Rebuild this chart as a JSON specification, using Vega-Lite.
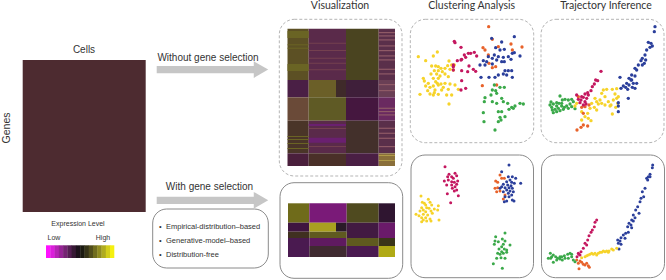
{
"$schema":"https://vega.github.io/schema/vega-lite/v6.json",
"width":666,"height":280,"padding":0,"autosize":{"type":"none"},
"background":"white",
"config":{"view":{"stroke":null}},
"resolve":{"scale":{"x":"independent","y":"independent","color":"independent"}},
"layer":[
{"data":{"values":[
{"x":22.7,"x2":145.7,"y":60,"y2":212,"tone":"m"},
{"x":287.5,"x2":308.7,"y":28.7,"y2":80,"tone":"a"},{"x":308.7,"x2":346,"y":28.7,"y2":80,"tone":"b"},{"x":346,"x2":378.7,"y":28.7,"y2":80,"tone":"c"},{"x":378.7,"x2":395,"y":28.7,"y2":80,"tone":"d"},
{"x":287.5,"x2":308.7,"y":80,"y2":97.3,"tone":"e"},{"x":308.7,"x2":336,"y":80,"y2":97.3,"tone":"f"},{"x":336,"x2":346,"y":80,"y2":97.3,"tone":"g"},{"x":346,"x2":378.7,"y":80,"y2":97.3,"tone":"h"},{"x":378.7,"x2":395,"y":80,"y2":97.3,"tone":"i"},
{"x":287.5,"x2":308.7,"y":97.3,"y2":120.7,"tone":"j"},{"x":308.7,"x2":346,"y":97.3,"y2":120.7,"tone":"k"},{"x":346,"x2":378.7,"y":97.3,"y2":120.7,"tone":"l"},{"x":378.7,"x2":395,"y":97.3,"y2":120.7,"tone":"n"},
{"x":287.5,"x2":308.7,"y":120.7,"y2":153.3,"tone":"o"},{"x":308.7,"x2":346,"y":120.7,"y2":153.3,"tone":"b"},{"x":346,"x2":378.7,"y":120.7,"y2":153.3,"tone":"p"},{"x":378.7,"x2":395,"y":120.7,"y2":153.3,"tone":"d"},
{"x":287.5,"x2":308.7,"y":153.3,"y2":166,"tone":"q"},{"x":308.7,"x2":346,"y":153.3,"y2":166,"tone":"r"},{"x":346,"x2":378.7,"y":153.3,"y2":166,"tone":"s"},{"x":378.7,"x2":395,"y":153.3,"y2":166,"tone":"t"},
{"x":288,"x2":309.3,"y":203.3,"y2":222.7,"tone":"B1"},{"x":309.3,"x2":346.7,"y":203.3,"y2":222.7,"tone":"B2"},{"x":346.7,"x2":378.7,"y":203.3,"y2":222.7,"tone":"B3"},{"x":378.7,"x2":395,"y":203.3,"y2":222.7,"tone":"B4"},
{"x":288,"x2":309.3,"y":222.7,"y2":231.7,"tone":"B5"},{"x":309.3,"x2":336,"y":222.7,"y2":231.7,"tone":"B6"},{"x":336,"x2":346.7,"y":222.7,"y2":231.7,"tone":"B7"},{"x":346.7,"x2":378.7,"y":222.7,"y2":238,"tone":"B8"},{"x":378.7,"x2":395,"y":222.7,"y2":238,"tone":"B9"},
{"x":288,"x2":309.3,"y":231.7,"y2":238,"tone":"B10"},{"x":309.3,"x2":346.7,"y":231.7,"y2":238,"tone":"B11"},
{"x":288,"x2":309.3,"y":238,"y2":257,"tone":"B12"},{"x":309.3,"x2":346.7,"y":238,"y2":246,"tone":"B13"},{"x":309.3,"x2":346.7,"y":246,"y2":257,"tone":"B14"},{"x":346.7,"x2":378.7,"y":238,"y2":246,"tone":"B15"},{"x":378.7,"x2":395,"y":238,"y2":246,"tone":"B16"},{"x":346.7,"x2":378.7,"y":246,"y2":257,"tone":"B12"},{"x":378.7,"x2":395,"y":246,"y2":257,"tone":"B17"}
]},
"mark":{"type":"rect"},
"encoding":{
"x":{"field":"x","type":"quantitative","axis":null,"scale":{"domain":[0,666]}},"x2":{"field":"x2"},
"y":{"field":"y","type":"quantitative","axis":null,"scale":{"domain":[280,0]}},"y2":{"field":"y2"},
"color":{"field":"tone","type":"nominal","legend":null,"scale":{
"domain":["m","a","b","c","d","e","f","g","h","i","j","k","l","n","o","p","q","r","s","t","B1","B2","B3","B4","B5","B6","B7","B8","B9","B10","B11","B12","B13","B14","B15","B16","B17"],
"range":["#4d2b30","#5c5024","#5a2a4a","#4a4420","#5a2f4a","#4a1f45","#6b5f28","#3f2a2a","#3f1f3a","#6a3f55","#6a4a38","#5f5a25","#45173f","#6a2a60","#4a3528","#43302b","#4a1f3c","#4a3028","#4a1f44","#8a6f3a","#6f6b1a","#7a1a78","#4f4a1f","#2f1530","#3f1540","#a8a020","#2a1a28","#421a42","#6a1a6a","#403020","#5f5a20","#4a1a50","#5f1a60","#3f2a30","#5f5a1f","#3a3518","#b0aa15"]}}}},
{"data":{"values":[
{"k":"pink","x":378.7,"x2":395,"y":32,"y2":33.2},{"k":"pink","x":378.7,"x2":395,"y":35.3,"y2":36.5},{"k":"pink","x":378.7,"x2":395,"y":39.3,"y2":40.5},{"k":"pink","x":378.7,"x2":395,"y":45.3,"y2":46.5},{"k":"pink","x":378.7,"x2":395,"y":50,"y2":51.2},{"k":"pink","x":378.7,"x2":395,"y":55.3,"y2":56.5},{"k":"pink","x":378.7,"x2":395,"y":59.3,"y2":60.5},{"k":"pink","x":378.7,"x2":395,"y":68.7,"y2":69.9},{"k":"pink","x":378.7,"x2":395,"y":73.3,"y2":74.5},
{"k":"pink","x":378.7,"x2":395,"y":84,"y2":85.2},{"k":"pink","x":378.7,"x2":395,"y":90,"y2":91.2},
{"k":"pink","x":378.7,"x2":395,"y":107.7,"y2":108.9},{"k":"pink","x":378.7,"x2":395,"y":111,"y2":112.2},{"k":"pink","x":378.7,"x2":395,"y":114.3,"y2":115.5},{"k":"pink","x":378.7,"x2":395,"y":127.7,"y2":128.9},{"k":"pink","x":378.7,"x2":395,"y":132.7,"y2":133.9},{"k":"pink","x":378.7,"x2":395,"y":137.7,"y2":138.9},{"k":"pink","x":378.7,"x2":395,"y":146,"y2":147.2},
{"k":"pale","x":308.7,"x2":346,"y":42.7,"y2":43.7},{"k":"pale","x":308.7,"x2":346,"y":50,"y2":51},{"k":"pale","x":308.7,"x2":346,"y":57.7,"y2":58.7},{"k":"pale","x":308.7,"x2":346,"y":62.7,"y2":63.7},{"k":"pale","x":308.7,"x2":346,"y":69.3,"y2":70.3},{"k":"pale","x":308.7,"x2":346,"y":146,"y2":147},{"k":"pale","x":308.7,"x2":346,"y":128,"y2":129},
{"k":"mag","x":308.7,"x2":346,"y":137.7,"y2":142.7},{"k":"mag","x":308.7,"x2":346,"y":124,"y2":126},
{"k":"olive","x":287.5,"x2":308.7,"y":31,"y2":38},{"k":"olive","x":287.5,"x2":308.7,"y":64,"y2":71},{"k":"olive","x":287.5,"x2":308.7,"y":44.3,"y2":45.3},{"k":"olive","x":287.5,"x2":308.7,"y":47.7,"y2":48.7},
{"k":"olive","x":287.5,"x2":308.7,"y":136,"y2":137},{"k":"olive","x":287.5,"x2":308.7,"y":139,"y2":140},{"k":"olive","x":287.5,"x2":308.7,"y":143,"y2":144},{"k":"olive","x":287.5,"x2":308.7,"y":148,"y2":149},
{"k":"gold","x":378.7,"x2":395,"y":155,"y2":156},{"k":"gold","x":378.7,"x2":395,"y":160,"y2":161}
]},
"mark":{"type":"rect"},
"encoding":{
"x":{"field":"x","type":"quantitative","axis":null,"scale":{"domain":[0,666]}},"x2":{"field":"x2"},
"y":{"field":"y","type":"quantitative","axis":null,"scale":{"domain":[280,0]}},"y2":{"field":"y2"},
"color":{"field":"k","type":"nominal","legend":null,"scale":{"domain":["pink","pale","mag","olive","gold"],"range":["#8f5a66","#74404f","#6a2070","#6a6424","#b09a48"]}}}},
{"data":{"values":[
{"level":-1,"x":46,"x2":50.6},{"level":-0.87,"x":50.3,"x2":54.9},{"level":-0.73,"x":54.6,"x2":59.2},{"level":-0.6,"x":58.8,"x2":63.4},{"level":-0.47,"x":63.1,"x2":67.7},{"level":-0.33,"x":67.4,"x2":72},{"level":-0.2,"x":71.6,"x2":76.2},{"level":-0.07,"x":75.9,"x2":80.5},{"level":0.07,"x":80.2,"x2":84.8},{"level":0.2,"x":84.4,"x2":89},{"level":0.33,"x":88.7,"x2":93.3},{"level":0.47,"x":93,"x2":97.6},{"level":0.6,"x":97.2,"x2":101.8},{"level":0.73,"x":101.5,"x2":106.1},{"level":0.87,"x":105.8,"x2":110.4},{"level":1,"x":110,"x2":114.3}
]},
"mark":{"type":"rect"},
"encoding":{
"x":{"field":"x","type":"quantitative","axis":null,"scale":{"domain":[0,666]}},"x2":{"field":"x2"},
"y":{"datum":245.3,"type":"quantitative","axis":null,"scale":{"domain":[280,0]}},"y2":{"datum":258},
"color":{"field":"level","type":"quantitative","legend":null,"scale":{"domain":[-1,0,1],"range":["#ff10ff","#0a0a0a","#f5f010"]}}}},
{"data":{"values":[{"x":279.3,"x2":402,"y":19.3,"y2":176},{"x":410.3,"x2":533.7,"y":19.3,"y2":142.7},{"x":541,"x2":664,"y":19.3,"y2":142.7}]},
"mark":{"type":"rect","fill":"transparent","stroke":"#b5b5b5","strokeWidth":1,"strokeDash":[3,2],"cornerRadius":15},
"encoding":{"x":{"field":"x","type":"quantitative","axis":null,"scale":{"domain":[0,666]}},"x2":{"field":"x2"},"y":{"field":"y","type":"quantitative","axis":null,"scale":{"domain":[280,0]}},"y2":{"field":"y2"}}},
{"data":{"values":[{"x":280,"x2":402.7,"y":182.7,"y2":278.3},{"x":411,"x2":533.5,"y":155,"y2":277.7},{"x":541.5,"x2":664.5,"y":155,"y2":277.7},{"x":152.7,"x2":268.3,"y":209,"y2":268}]},
"mark":{"type":"rect","fill":"transparent","stroke":"#8a8a8a","strokeWidth":1,"cornerRadius":14},
"encoding":{"x":{"field":"x","type":"quantitative","axis":null,"scale":{"domain":[0,666]}},"x2":{"field":"x2"},"y":{"field":"y","type":"quantitative","axis":null,"scale":{"domain":[280,0]}},"y2":{"field":"y2"}}},
{"data":{"values":[{"x":156.7,"x2":255,"y":66,"y2":73.3},{"x":156.7,"x2":255,"y":196.7,"y2":204}]},
"mark":{"type":"rect","color":"#c6c6c6"},
"encoding":{"x":{"field":"x","type":"quantitative","axis":null,"scale":{"domain":[0,666]}},"x2":{"field":"x2"},"y":{"field":"y","type":"quantitative","axis":null,"scale":{"domain":[280,0]}},"y2":{"field":"y2"}}},
{"data":{"values":[{"x":261,"y":69.6},{"x":261,"y":200.3}]},
"mark":{"type":"point","shape":"triangle-right","filled":true,"opacity":1,"color":"#c6c6c6","size":278},
"encoding":{"x":{"field":"x","type":"quantitative","axis":null,"scale":{"domain":[0,666]}},"y":{"field":"y","type":"quantitative","axis":null,"scale":{"domain":[280,0]}}}},
{"data":{"values":[
{"g":"y","x":40,"y":170},{"g":"y","x":97,"y":156},{"g":"y","x":85,"y":168},{"g":"y","x":62,"y":182},{"g":"y","x":80,"y":198},{"g":"y","x":92,"y":198},{"g":"y","x":100,"y":200},{"g":"y","x":108,"y":205},{"g":"y","x":120,"y":205},{"g":"y","x":132,"y":183},{"g":"y","x":140,"y":195},{"g":"y","x":128,"y":197},{"g":"y","x":148,"y":195},{"g":"y","x":100,"y":212},{"g":"y","x":88,"y":212},{"g":"y","x":112,"y":215},{"g":"y","x":135,"y":208},{"g":"y","x":78,"y":222},{"g":"y","x":95,"y":222},{"g":"y","x":120,"y":222},{"g":"y","x":145,"y":210},{"g":"y","x":105,"y":228},{"g":"y","x":85,"y":235},{"g":"y","x":100,"y":235},{"g":"y","x":130,"y":230},{"g":"y","x":55,"y":235},{"g":"y","x":58,"y":243},{"g":"y","x":70,"y":250},{"g":"y","x":92,"y":245},{"g":"y","x":97,"y":250},{"g":"y","x":108,"y":252},{"g":"y","x":120,"y":250},{"g":"y","x":135,"y":252},{"g":"y","x":150,"y":255},{"g":"y","x":62,"y":258},{"g":"y","x":85,"y":258},{"g":"y","x":100,"y":255},{"g":"y","x":75,"y":262},{"g":"y","x":115,"y":262},{"g":"y","x":68,"y":272},{"g":"y","x":90,"y":270},{"g":"y","x":130,"y":268},{"g":"y","x":160,"y":268},{"g":"y","x":45,"y":283},{"g":"y","x":75,"y":282},{"g":"y","x":85,"y":285},{"g":"y","x":100,"y":283},{"g":"y","x":125,"y":285},{"g":"y","x":140,"y":285},{"g":"y","x":132,"y":312},{"g":"y","x":88,"y":278},{"g":"y","x":110,"y":270},
{"g":"r","x":148,"y":124},{"g":"r","x":168,"y":142},{"g":"r","x":197,"y":160},{"g":"r","x":208,"y":157},{"g":"r","x":190,"y":160},{"g":"r","x":178,"y":165},{"g":"r","x":182,"y":172},{"g":"r","x":170,"y":178},{"g":"r","x":157,"y":182},{"g":"r","x":168,"y":180},{"g":"r","x":145,"y":195},{"g":"r","x":145,"y":210},{"g":"r","x":215,"y":168},{"g":"r","x":192,"y":198},{"g":"r","x":170,"y":212},{"g":"r","x":188,"y":215},{"g":"r","x":205,"y":208},{"g":"r","x":212,"y":214},{"g":"r","x":170,"y":242},{"g":"r","x":182,"y":265},{"g":"r","x":168,"y":270},{"g":"r","x":150,"y":128},{"g":"r","x":145,"y":200},
{"g":"o","x":251,"y":80},{"g":"o","x":234,"y":143},{"g":"o","x":262,"y":118},{"g":"o","x":280,"y":140},{"g":"o","x":318,"y":132},{"g":"o","x":351,"y":141},{"g":"o","x":272,"y":200},{"g":"o","x":262,"y":203},{"g":"o","x":232,"y":257},{"g":"o","x":252,"y":190},{"g":"o","x":322,"y":150},{"g":"o","x":250,"y":165},{"g":"o","x":275,"y":255},{"g":"o","x":240,"y":150},
{"g":"b","x":260,"y":115},{"g":"b","x":328,"y":110},{"g":"b","x":290,"y":126},{"g":"b","x":272,"y":143},{"g":"b","x":285,"y":150},{"g":"b","x":298,"y":148},{"g":"b","x":322,"y":160},{"g":"b","x":268,"y":165},{"g":"b","x":250,"y":170},{"g":"b","x":235,"y":182},{"g":"b","x":245,"y":185},{"g":"b","x":262,"y":175},{"g":"b","x":280,"y":170},{"g":"b","x":295,"y":172},{"g":"b","x":310,"y":170},{"g":"b","x":328,"y":158},{"g":"b","x":345,"y":168},{"g":"b","x":240,"y":195},{"g":"b","x":262,"y":192},{"g":"b","x":275,"y":180},{"g":"b","x":290,"y":185},{"g":"b","x":318,"y":178},{"g":"b","x":225,"y":195},{"g":"b","x":300,"y":212},{"g":"b","x":310,"y":212},{"g":"b","x":320,"y":212},{"g":"b","x":295,"y":222},{"g":"b","x":280,"y":225},{"g":"b","x":270,"y":232},{"g":"b","x":305,"y":225},{"g":"b","x":322,"y":232},{"g":"b","x":228,"y":232},{"g":"b","x":252,"y":232},{"g":"b","x":298,"y":185},
{"g":"g","x":268,"y":255},{"g":"g","x":285,"y":262},{"g":"g","x":298,"y":262},{"g":"g","x":262,"y":270},{"g":"g","x":272,"y":272},{"g":"g","x":258,"y":285},{"g":"g","x":240,"y":293},{"g":"g","x":238,"y":305},{"g":"g","x":275,"y":280},{"g":"g","x":290,"y":295},{"g":"g","x":295,"y":305},{"g":"g","x":262,"y":305},{"g":"g","x":275,"y":310},{"g":"g","x":308,"y":310},{"g":"g","x":345,"y":310},{"g":"g","x":355,"y":312},{"g":"g","x":330,"y":318},{"g":"g","x":320,"y":322},{"g":"g","x":312,"y":328},{"g":"g","x":325,"y":325},{"g":"g","x":235,"y":338},{"g":"g","x":280,"y":335},{"g":"g","x":290,"y":335},{"g":"g","x":300,"y":350},{"g":"g","x":285,"y":352},{"g":"g","x":288,"y":360},{"g":"g","x":280,"y":365},{"g":"g","x":237,"y":365},{"g":"g","x":270,"y":390},
{"g":"g","x":438,"y":306},{"g":"g","x":435,"y":315},{"g":"g","x":445,"y":312},{"g":"g","x":455,"y":318},{"g":"g","x":465,"y":288},{"g":"g","x":472,"y":300},{"g":"g","x":480,"y":298},{"g":"g","x":490,"y":300},{"g":"g","x":500,"y":298},{"g":"g","x":505,"y":305},{"g":"g","x":495,"y":312},{"g":"g","x":485,"y":318},{"g":"g","x":478,"y":322},{"g":"g","x":470,"y":318},{"g":"g","x":460,"y":325},{"g":"g","x":450,"y":328},{"g":"g","x":440,"y":322},{"g":"g","x":445,"y":338},{"g":"g","x":455,"y":335},{"g":"g","x":465,"y":332},{"g":"g","x":475,"y":328},{"g":"g","x":462,"y":310},{"g":"g","x":455,"y":308},{"g":"g","x":500,"y":320},{"g":"g","x":510,"y":326},{"g":"g","x":490,"y":325},{"g":"g","x":470,"y":310},{"g":"g","x":442,"y":330},
{"g":"y","x":595,"y":270},{"g":"y","x":605,"y":268},{"g":"y","x":622,"y":268},{"g":"y","x":635,"y":266},{"g":"y","x":590,"y":280},{"g":"y","x":600,"y":290},{"g":"y","x":630,"y":282},{"g":"y","x":635,"y":295},{"g":"y","x":625,"y":300},{"g":"y","x":610,"y":305},{"g":"y","x":590,"y":310},{"g":"y","x":600,"y":315},{"g":"y","x":615,"y":318},{"g":"y","x":585,"y":300},{"g":"y","x":580,"y":312},{"g":"y","x":570,"y":295},{"g":"y","x":575,"y":305},{"g":"y","x":560,"y":310},{"g":"y","x":568,"y":322},{"g":"y","x":575,"y":330},{"g":"y","x":555,"y":325},{"g":"y","x":548,"y":340},{"g":"y","x":530,"y":335},{"g":"y","x":540,"y":350},{"g":"y","x":550,"y":355},{"g":"y","x":558,"y":362},{"g":"y","x":530,"y":360},{"g":"y","x":622,"y":342},{"g":"y","x":632,"y":322},{"g":"y","x":638,"y":310},{"g":"y","x":618,"y":315},{"g":"y","x":640,"y":290},{"g":"y","x":515,"y":310},{"g":"y","x":510,"y":318},
{"g":"o","x":530,"y":322},{"g":"o","x":540,"y":320},{"g":"o","x":552,"y":315},{"g":"o","x":520,"y":290},{"g":"o","x":535,"y":340},{"g":"o","x":548,"y":378},{"g":"o","x":535,"y":375},{"g":"o","x":528,"y":382},{"g":"o","x":516,"y":390},
{"g":"r","x":588,"y":214},{"g":"r","x":572,"y":240},{"g":"r","x":578,"y":242},{"g":"r","x":568,"y":252},{"g":"r","x":562,"y":260},{"g":"r","x":558,"y":272},{"g":"r","x":548,"y":278},{"g":"r","x":540,"y":282},{"g":"r","x":530,"y":290},{"g":"r","x":520,"y":298},{"g":"r","x":535,"y":292},{"g":"r","x":545,"y":295},{"g":"r","x":528,"y":300},{"g":"r","x":540,"y":305},{"g":"r","x":550,"y":285},{"g":"r","x":525,"y":308},{"g":"r","x":535,"y":315},{"g":"r","x":543,"y":312},{"g":"r","x":515,"y":285},
{"g":"b","x":750,"y":80},{"g":"b","x":748,"y":95},{"g":"b","x":730,"y":127},{"g":"b","x":738,"y":130},{"g":"b","x":742,"y":138},{"g":"b","x":735,"y":142},{"g":"b","x":725,"y":150},{"g":"b","x":720,"y":165},{"g":"b","x":712,"y":175},{"g":"b","x":722,"y":180},{"g":"b","x":708,"y":182},{"g":"b","x":718,"y":190},{"g":"b","x":700,"y":195},{"g":"b","x":712,"y":195},{"g":"b","x":690,"y":205},{"g":"b","x":695,"y":210},{"g":"b","x":680,"y":225},{"g":"b","x":690,"y":228},{"g":"b","x":672,"y":235},{"g":"b","x":680,"y":240},{"g":"b","x":665,"y":250},{"g":"b","x":655,"y":258},{"g":"b","x":648,"y":265},{"g":"b","x":662,"y":262},{"g":"b","x":672,"y":255},{"g":"b","x":685,"y":250},{"g":"b","x":695,"y":250},{"g":"b","x":682,"y":262},{"g":"b","x":690,"y":265},{"g":"b","x":678,"y":240},{"g":"b","x":645,"y":232},{"g":"b","x":668,"y":268},{"g":"b","x":670,"y":295},{"g":"b","x":640,"y":308},{"g":"b","x":640,"y":318},{"g":"b","x":640,"y":335}
]},
"mark":{"type":"point","filled":true,"opacity":1,"size":11,"stroke":null},
"encoding":{
"x":{"field":"x","type":"quantitative","axis":null,"scale":{"domain":[-1215,783]}},
"y":{"field":"y","type":"quantitative","axis":null,"scale":{"domain":[840,0]}},
"color":{"field":"g","type":"nominal","legend":null,"scale":{"domain":["y","r","b","o","g"],"range":["#f6d32a","#c4175f","#2b3f9b","#e8622a","#3ba94a"]}}}},
{"data":{"values":[
{"g":"r","x":120,"y":65},{"g":"r","x":150,"y":85},{"g":"r","x":132,"y":88},{"g":"r","x":128,"y":95},{"g":"r","x":140,"y":95},{"g":"r","x":155,"y":92},{"g":"r","x":130,"y":105},{"g":"r","x":145,"y":100},{"g":"r","x":158,"y":108},{"g":"r","x":118,"y":108},{"g":"r","x":140,"y":110},{"g":"r","x":148,"y":112},{"g":"r","x":125,"y":120},{"g":"r","x":140,"y":120},{"g":"r","x":155,"y":118},{"g":"r","x":150,"y":125},{"g":"r","x":142,"y":130},{"g":"r","x":155,"y":135},{"g":"r","x":148,"y":138},{"g":"r","x":127,"y":146},{"g":"r","x":160,"y":152},{"g":"r","x":137,"y":173},
{"g":"o","x":285,"y":90},{"g":"o","x":290,"y":100},{"g":"o","x":298,"y":100},{"g":"o","x":272,"y":108},{"g":"o","x":278,"y":112},{"g":"o","x":270,"y":130},{"g":"o","x":278,"y":128},{"g":"o","x":285,"y":138},{"g":"o","x":275,"y":140},{"g":"o","x":295,"y":162},{"g":"o","x":300,"y":150},
{"g":"b","x":312,"y":60},{"g":"b","x":290,"y":80},{"g":"b","x":310,"y":95},{"g":"b","x":322,"y":95},{"g":"b","x":332,"y":100},{"g":"b","x":315,"y":105},{"g":"b","x":305,"y":110},{"g":"b","x":320,"y":112},{"g":"b","x":347,"y":115},{"g":"b","x":295,"y":118},{"g":"b","x":308,"y":120},{"g":"b","x":318,"y":122},{"g":"b","x":328,"y":115},{"g":"b","x":290,"y":125},{"g":"b","x":300,"y":128},{"g":"b","x":312,"y":128},{"g":"b","x":322,"y":130},{"g":"b","x":285,"y":130},{"g":"b","x":305,"y":135},{"g":"b","x":315,"y":138},{"g":"b","x":325,"y":140},{"g":"b","x":295,"y":140},{"g":"b","x":310,"y":145},{"g":"b","x":320,"y":150},{"g":"b","x":300,"y":155},{"g":"b","x":305,"y":168},{"g":"b","x":298,"y":170},{"g":"b","x":322,"y":165},{"g":"b","x":327,"y":168},{"g":"b","x":312,"y":155},
{"g":"y","x":48,"y":153},{"g":"y","x":70,"y":163},{"g":"y","x":52,"y":172},{"g":"y","x":58,"y":175},{"g":"y","x":75,"y":172},{"g":"y","x":62,"y":180},{"g":"y","x":80,"y":180},{"g":"y","x":100,"y":182},{"g":"y","x":50,"y":188},{"g":"y","x":65,"y":188},{"g":"y","x":72,"y":190},{"g":"y","x":88,"y":192},{"g":"y","x":55,"y":195},{"g":"y","x":45,"y":198},{"g":"y","x":62,"y":200},{"g":"y","x":78,"y":198},{"g":"y","x":98,"y":195},{"g":"y","x":33,"y":208},{"g":"y","x":42,"y":212},{"g":"y","x":55,"y":208},{"g":"y","x":68,"y":210},{"g":"y","x":82,"y":205},{"g":"y","x":50,"y":218},{"g":"y","x":62,"y":218},{"g":"y","x":75,"y":222},{"g":"y","x":102,"y":225},{"g":"y","x":50,"y":230},{"g":"y","x":65,"y":228},{"g":"y","x":78,"y":228},{"g":"y","x":55,"y":225},
{"g":"g","x":300,"y":264},{"g":"g","x":272,"y":275},{"g":"g","x":270,"y":288},{"g":"g","x":280,"y":290},{"g":"g","x":292,"y":282},{"g":"g","x":300,"y":288},{"g":"g","x":268,"y":298},{"g":"g","x":295,"y":298},{"g":"g","x":315,"y":300},{"g":"g","x":290,"y":305},{"g":"g","x":282,"y":312},{"g":"g","x":298,"y":312},{"g":"g","x":305,"y":315},{"g":"g","x":290,"y":320},{"g":"g","x":278,"y":325},{"g":"g","x":285,"y":328},{"g":"g","x":295,"y":325},{"g":"g","x":305,"y":322},{"g":"g","x":300,"y":340},{"g":"g","x":275,"y":340},{"g":"g","x":288,"y":338},{"g":"g","x":265,"y":356},{"g":"g","x":292,"y":370},
{"g":"b","x":743,"y":60},{"g":"b","x":742,"y":68},{"g":"b","x":735,"y":88},{"g":"b","x":730,"y":95},{"g":"b","x":725,"y":100},{"g":"b","x":735,"y":95},{"g":"b","x":728,"y":105},{"g":"b","x":720,"y":130},{"g":"b","x":712,"y":140},{"g":"b","x":708,"y":160},{"g":"b","x":716,"y":155},{"g":"b","x":705,"y":170},{"g":"b","x":698,"y":185},{"g":"b","x":692,"y":195},{"g":"b","x":702,"y":205},{"g":"b","x":685,"y":210},{"g":"b","x":690,"y":218},{"g":"b","x":680,"y":225},{"g":"b","x":672,"y":235},{"g":"b","x":685,"y":228},{"g":"b","x":678,"y":240},{"g":"b","x":668,"y":245},{"g":"b","x":680,"y":248},{"g":"b","x":662,"y":265},{"g":"b","x":670,"y":262},{"g":"b","x":655,"y":270},{"g":"b","x":660,"y":280},{"g":"b","x":648,"y":278},{"g":"b","x":638,"y":285},{"g":"b","x":645,"y":288},{"g":"b","x":640,"y":295},{"g":"b","x":648,"y":298},{"g":"b","x":642,"y":312},
{"g":"r","x":575,"y":225},{"g":"r","x":570,"y":232},{"g":"r","x":568,"y":245},{"g":"r","x":562,"y":255},{"g":"r","x":558,"y":262},{"g":"r","x":552,"y":272},{"g":"r","x":548,"y":285},{"g":"r","x":540,"y":295},{"g":"r","x":545,"y":300},{"g":"r","x":535,"y":310},{"g":"r","x":528,"y":320},{"g":"r","x":522,"y":328},{"g":"r","x":516,"y":335},{"g":"r","x":520,"y":325},{"g":"r","x":525,"y":330},
{"g":"y","x":635,"y":310},{"g":"y","x":625,"y":315},{"g":"y","x":612,"y":318},{"g":"y","x":600,"y":320},{"g":"y","x":590,"y":322},{"g":"y","x":580,"y":325},{"g":"y","x":570,"y":325},{"g":"y","x":560,"y":325},{"g":"y","x":550,"y":330},{"g":"y","x":540,"y":335},{"g":"y","x":530,"y":338},{"g":"y","x":605,"y":318},{"g":"y","x":595,"y":318},{"g":"y","x":585,"y":322},{"g":"y","x":565,"y":328},{"g":"y","x":620,"y":312},{"g":"y","x":575,"y":330},{"g":"y","x":555,"y":328},{"g":"y","x":545,"y":332},{"g":"y","x":610,"y":322},
{"g":"o","x":515,"y":345},{"g":"o","x":520,"y":355},{"g":"o","x":530,"y":352},{"g":"o","x":540,"y":360},{"g":"o","x":550,"y":362},{"g":"o","x":553,"y":367},{"g":"o","x":522,"y":371},{"g":"o","x":535,"y":358},{"g":"o","x":545,"y":355},{"g":"o","x":525,"y":348},
{"g":"g","x":430,"y":340},{"g":"g","x":436,"y":325},{"g":"g","x":440,"y":335},{"g":"g","x":445,"y":330},{"g":"g","x":452,"y":335},{"g":"g","x":458,"y":340},{"g":"g","x":465,"y":335},{"g":"g","x":472,"y":345},{"g":"g","x":478,"y":332},{"g":"g","x":488,"y":328},{"g":"g","x":495,"y":325},{"g":"g","x":500,"y":335},{"g":"g","x":505,"y":345},{"g":"g","x":510,"y":350},{"g":"g","x":445,"y":352},{"g":"g","x":455,"y":345},{"g":"g","x":465,"y":342},{"g":"g","x":480,"y":340},{"g":"g","x":490,"y":340},{"g":"g","x":500,"y":328},{"g":"g","x":470,"y":335},{"g":"g","x":437,"y":340}
]},
"mark":{"type":"point","filled":true,"opacity":1,"size":9,"stroke":null},
"encoding":{
"x":{"field":"x","type":"quantitative","axis":null,"scale":{"domain":[-1215,783]}},
"y":{"field":"y","type":"quantitative","axis":null,"scale":{"domain":[405,-435]}},
"color":{"field":"g","type":"nominal","legend":null,"scale":{"domain":["y","r","b","o","g"],"range":["#f6d32a","#c4175f","#2b3f9b","#e8622a","#3ba94a"]}}}},
{"data":{"values":[{"t":"Visualization","x":340,"y":5.5},{"t":"Clustering Analysis","x":471.7,"y":5.5},{"t":"Trajectory Inference","x":606,"y":5.5}]},
"mark":{"type":"text","font":"Lato","fontSize":10.5,"color":"#333","align":"center","baseline":"middle"},
"encoding":{"x":{"field":"x","type":"quantitative","axis":null,"scale":{"domain":[0,666]}},"y":{"field":"y","type":"quantitative","axis":null,"scale":{"domain":[280,0]}},"text":{"field":"t"}}},
{"data":{"values":[{"t":"Cells","x":84,"y":50},{"t":"With gene selection","x":209.5,"y":186.7},{"t":"Without gene selection","x":208,"y":57.7}]},
"mark":{"type":"text","font":"Liberation Sans","fontSize":10,"color":"#333","align":"center","baseline":"middle"},
"encoding":{"x":{"field":"x","type":"quantitative","axis":null,"scale":{"domain":[0,666]}},"y":{"field":"y","type":"quantitative","axis":null,"scale":{"domain":[280,0]}},"text":{"field":"t"}}},
{"data":{"values":[{"t":"Genes","x":6.5,"y":128}]},
"mark":{"type":"text","font":"Liberation Sans","fontSize":10.5,"color":"#333","align":"center","baseline":"middle","angle":270},
"encoding":{"x":{"field":"x","type":"quantitative","axis":null,"scale":{"domain":[0,666]}},"y":{"field":"y","type":"quantitative","axis":null,"scale":{"domain":[280,0]}},"text":{"field":"t"}}},
{"data":{"values":[{"t":"Expression Level","x":78,"y":223.7},{"t":"Low","x":54,"y":238},{"t":"High","x":103,"y":238}]},
"mark":{"type":"text","font":"Liberation Sans","fontSize":7,"color":"#333","align":"center","baseline":"middle"},
"encoding":{"x":{"field":"x","type":"quantitative","axis":null,"scale":{"domain":[0,666]}},"y":{"field":"y","type":"quantitative","axis":null,"scale":{"domain":[280,0]}},"text":{"field":"t"}}},
{"data":{"values":[{"t":"•","x":159,"y":226.7},{"t":"•","x":159,"y":240.7},{"t":"•","x":159,"y":254.7},{"t":"Empirical-distribution–based","x":166,"y":226.7},{"t":"Generative-model–based","x":166,"y":240.7},{"t":"Distribution-free","x":166,"y":254.7}]},
"mark":{"type":"text","font":"Liberation Sans","fontSize":7.5,"color":"#333","align":"left","baseline":"middle"},
"encoding":{"x":{"field":"x","type":"quantitative","axis":null,"scale":{"domain":[0,666]}},"y":{"field":"y","type":"quantitative","axis":null,"scale":{"domain":[280,0]}},"text":{"field":"t"}}}
]
}
